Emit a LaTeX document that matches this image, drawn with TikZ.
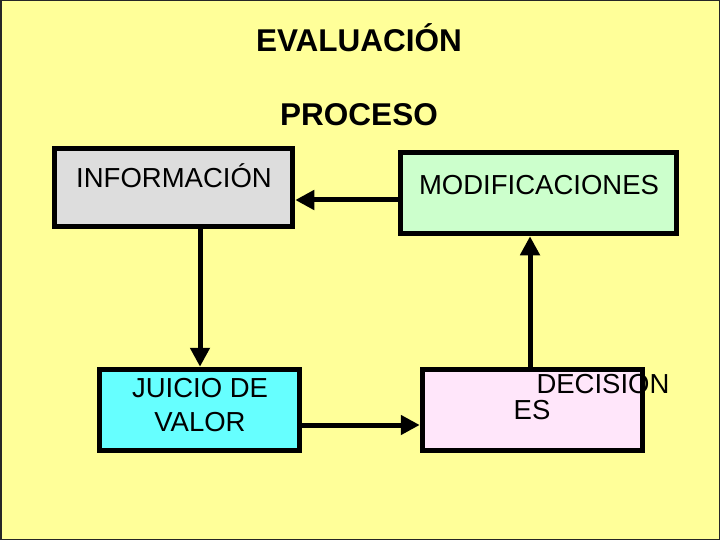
\documentclass[tikz,border=0pt]{standalone}
\usepackage{fontspec}
\setmainfont{Liberation Sans}
\usetikzlibrary{arrows.meta}
\definecolor{bgy}{HTML}{FFFF99}
\definecolor{boxgrey}{HTML}{DDDDDD}
\definecolor{boxgreen}{HTML}{CCFFCC}
\definecolor{boxcyan}{HTML}{66FFFF}
\definecolor{boxpink}{HTML}{FFE6FA}
\tikzset{
  box/.style={draw=black, line width=5.5pt, rectangle, inner sep=0pt},
  lbl/.style={font=\fontsize{27.5}{30}\selectfont, inner sep=0pt},
  ttl/.style={font=\bfseries\fontsize{31.5}{33}\selectfont, inner sep=0pt},
  arr/.style={line width=5pt, -{Triangle[length=19pt,width=19pt]}}
}
\begin{document}
\begin{tikzpicture}[x=1pt,y=-1pt]
\useasboundingbox (0,0) rectangle (720,540);
\fill[bgy] (0,0) rectangle (720,540);
\draw[black!85, line width=1.5pt] (0.75,0.75) rectangle (719.25,539.25);
\node[ttl] (t1) at (359,38) {EVALUACIÓN};
\node[ttl] (t2) at (359,115) {PROCESO};
\node[box, fill=boxgrey, minimum width=238pt, minimum height=78pt] (info) at (173.5,187.5) {};
\node[box, fill=boxgreen, minimum width=276pt, minimum height=81pt] (modif) at (538.5,193) {};
\node[box, fill=boxcyan, minimum width=200pt, minimum height=81pt] (juicio) at (199.5,410) {};
\node[box, fill=boxpink, minimum width=220pt, minimum height=81pt] (decis) at (532.5,410) {};
\node[lbl] (infot) at (174,176) {INFORMACIÓN};
\node[lbl] (modift) at (539,185) {MODIFICACIONES};
\node[lbl] (juit1) at (200,388) {JUICIO DE};
\node[lbl] (juit2) at (200,422) {VALOR};
\node[lbl] (dect1) at (603,384) {DECISION};
\node[lbl] (dect2) at (532,410) {ES};
\coordinate (ya) at (0,200);
\coordinate (xb) at (200,0);
\coordinate (yc) at (0,425);
\coordinate (xd) at (530,0);
\draw[arr] (modif.west |- ya) -- (info.east |- ya);
\draw[arr] (info.south -| xb) -- (juicio.north -| xb);
\draw[arr] (juicio.east |- yc) -- (decis.west |- yc);
\draw[arr] (decis.north -| xd) -- (modif.south -| xd);
\end{tikzpicture}
\end{document}
